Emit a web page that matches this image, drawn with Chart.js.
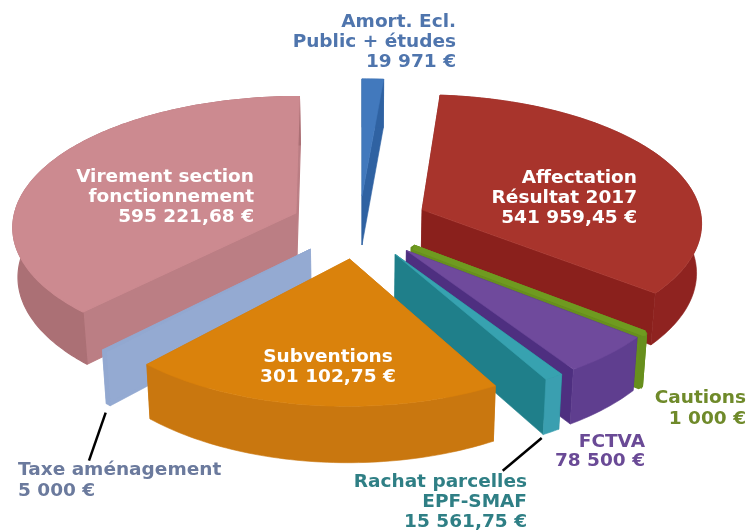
<!DOCTYPE html>
<html>
<head>
<meta charset="utf-8">
<title>Recettes d'investissement</title>
<script src="https://cdn.jsdelivr.net/npm/chart.js@4"></script>
<style>
    html, body { margin: 0; padding: 0; background: #fff; }
    canvas { display: block; }
</style>
</head>
<body>
<canvas id="pie" width="754" height="531"></canvas>
<script>
const categories = ['Amort. Ecl. Public + études', 'Affectation Résultat 2017', 'Cautions', 'FCTVA',
    'Rachat parcelles EPF-SMAF', 'Subventions', 'Taxe aménagement', 'Virement section fonctionnement'];
const amounts = [19971, 541959.45, 1000, 78500, 15561.75, 301102.75, 5000, 595221.68];

// top face, outer wall, cut faces
const topColors = ['#4279bd', '#a8342c', '#6f9a20', '#6f4a9c', '#37a2b0', '#da820c', '#92a8d0', '#cc8a90'];
const rimColors = ['#2f62a2', '#8f2320', '#678f1d', '#5f3e8f', '#3a9fb0', '#c9770f', '#92a8d0', '#ab7075'];
const cutColors = ['#2f62a2', '#8a201c', '#678f1d', '#4e2f80', '#1f7f8a', '#c9770f', '#94aad2', '#bb7e84'];

// how far each slice is pulled out, on the table plane (px right, px back)
const pullX = [0, 60, 50, 43, 32, -12, -50, -66];
const pullY = [30, -2, -85, -92, -100, -110, -89, -9];
const radiusScale = [1.077, 1.05, 1, 1, 1, 1, 1, 1.06];
const outlineWidth = [0.6, 0.6, 5.5, 0.6, 0.6, 0.6, 0.6, 1.2];
const paintOrder = [7, 0, 1, 2, 3, 4, 6, 5];

// camera
const VIEW_X = 362;
const VIEW_Y = 209;
const TILT = 0.437;
const DEPTH_LINEAR = 0.000307;
const DEPTH_CURVE = -0.000000395;
const THICKNESS = 50;
const BASE_SHRINK = 1.015;

const labels = [
    { lines: ['Amort. Ecl.', 'Public + études', '19 971 €'], x: 456, y: 22, align: 'right', color: '#4f75ad', lead: 20 },
    { lines: ['Affectation', 'Résultat 2017', '541 959,45 €'], x: 637, y: 178, align: 'right', color: '#fff', lead: 20 },
    { lines: ['Cautions', '1 000 €'], x: 746, y: 398, align: 'right', color: '#6f8a2a', lead: 21 },
    { lines: ['FCTVA', '78 500 €'], x: 645, y: 442, align: 'right', color: '#6a4a96', lead: 19 },
    { lines: ['Rachat parcelles', 'EPF-SMAF', '15 561,75 €'], x: 527, y: 482, align: 'right', color: '#2f7f85', lead: 20 },
    { lines: ['Subventions', '301 102,75 €'], x: 328, y: 357, align: 'center', color: '#fff', lead: 20 },
    { lines: ['Taxe aménagement', '5 000 €'], x: 18, y: 470, align: 'left', color: '#6b7a9d', lead: 21 },
    { lines: ['Virement section', 'fonctionnement', '595 221,68 €'], x: 254, y: 177, align: 'right', color: '#fff', lead: 20 },
];
const leaders = [
    [105.7, 412.7, 89, 460.7],
    [541.7, 438, 502.7, 470.7],
];

const project = (x, y, isBase) => {
    const w = (1 + DEPTH_LINEAR * y + DEPTH_CURVE * y * y) * (isBase ? BASE_SHRINK : 1);
    const drop = isBase ? THICKNESS / w : 0;
    return [VIEW_X + x / w, VIEW_Y - (TILT * y) / w + drop];
};

const paintFace = (ctx, points, color, width) => {
    ctx.beginPath();
    points.forEach(([x, y], i) => (i ? ctx.lineTo(x, y) : ctx.moveTo(x, y)));
    ctx.closePath();
    ctx.fillStyle = color;
    ctx.strokeStyle = color;
    ctx.lineWidth = width;
    ctx.lineJoin = 'bevel';
    ctx.fill();
    ctx.stroke();
};

const paintSlice = (ctx, arc, i) => {
    const radius = arc.outerRadius * radiusScale[i];
    const rimAngles = [];
    const steps = Math.max(2, Math.ceil((arc.endAngle - arc.startAngle) / 0.02));
    for (let s = 0; s <= steps; s += 1) {
        rimAngles.push(arc.startAngle + ((arc.endAngle - arc.startAngle) * s) / steps);
    }
    const at = (r, a, isBase) => project(pullX[i] + r * Math.cos(a), pullY[i] - r * Math.sin(a), isBase);
    const width = outlineWidth[i];

    const apexTop = at(0, 0, false);
    const apexBase = at(0, 0, true);
    [arc.startAngle, arc.endAngle].forEach((a) => {
        paintFace(ctx, [apexTop, at(radius, a, false), at(radius, a, true), apexBase], cutColors[i], width);
    });
    const rimTop = rimAngles.map((a) => at(radius, a, false));
    const rimBase = rimAngles.map((a) => at(radius, a, true)).reverse();
    paintFace(ctx, [...rimTop, ...rimBase], rimColors[i], width);
    paintFace(ctx, [apexTop, ...rimTop], topColors[i], width);
};

const tiltedPie = {
    id: 'tiltedPie',
    beforeDatasetDraw(chart) {
        const arcs = chart.getDatasetMeta(0).data;
        paintOrder.forEach((i) => paintSlice(chart.ctx, arcs[i], i));
        return false;
    },
    afterDraw(chart) {
        const { ctx } = chart;
        ctx.save();
        ctx.strokeStyle = '#000';
        ctx.lineWidth = 2.5;
        leaders.forEach(([x1, y1, x2, y2]) => {
            ctx.beginPath();
            ctx.moveTo(x1, y1);
            ctx.lineTo(x2, y2);
            ctx.stroke();
        });
        ctx.font = 'bold 18.5px "DejaVu Sans"';
        ctx.textBaseline = 'middle';
        labels.forEach((label) => {
            ctx.fillStyle = label.color;
            ctx.textAlign = label.align;
            label.lines.forEach((line, n) => {
                ctx.fillText(line, label.x, label.y + n * label.lead);
            });
        });
        ctx.restore();
    },
};

new Chart(document.getElementById('pie'), {
    type: 'pie',
    data: {
        labels: categories,
        datasets: [{ data: amounts, backgroundColor: topColors }],
    },
    options: {
        responsive: false,
        animation: false,
        layout: { padding: 0 },
        plugins: {
            legend: { display: false },
            tooltip: { enabled: false },
        },
    },
    plugins: [tiltedPie],
});
</script>
</body>
</html>
